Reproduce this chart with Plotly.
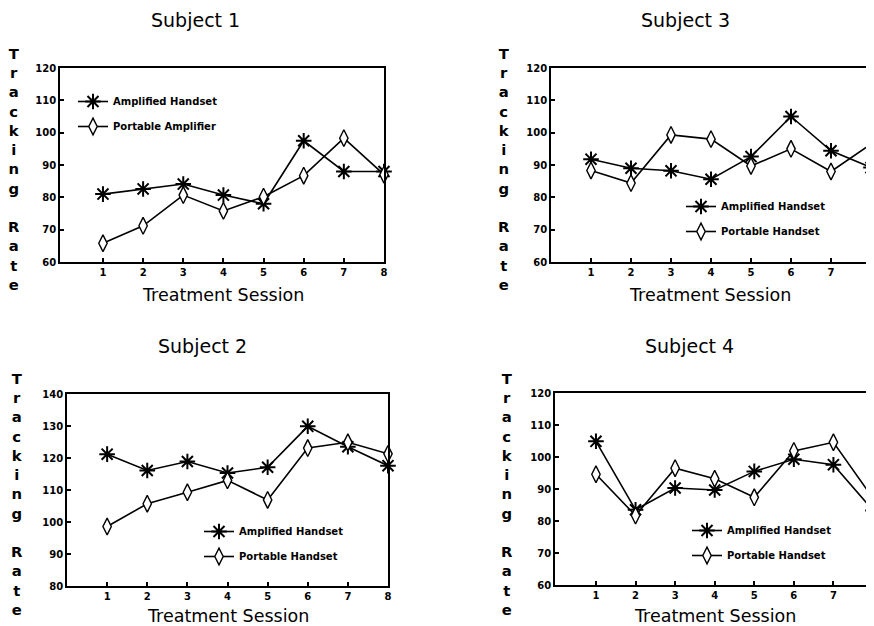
import plotly.graph_objects as go

sessions = [1, 2, 3, 4, 5, 6, 7, 8]

s1_amp = [81, 82.6, 84.1, 80.7, 78, 97.5, 88, 88]
s1_port = [65.8, 71.2, 80.7, 75.8, 80.2, 86.7, 98.3, 87]
s3_amp = [91.8, 89, 88.2, 85.6, 92.6, 105, 94.4, 89.2]
s3_port = [88.3, 84.4, 99.3, 98, 89.7, 95, 88, 96.5]
s2_amp = [121.2, 116.1, 118.9, 115.3, 117.1, 129.9, 123.5, 117.6]
s2_port = [98.6, 105.7, 109.3, 113, 106.9, 123.1, 124.9, 121.3]
s4_amp = [104.9, 83.5, 90.3, 89.7, 95.5, 99.3, 97.6, 83.3]
s4_port = [94.6, 81.7, 96.5, 93.2, 87.4, 101.9, 104.6, 87.1]

titles = ["Subject 1", "Subject 3", "Subject 2", "Subject 4"]
amp_names = ["Amplified Handset"] * 4
port_names = ["Portable Amplifier", "Portable Handset", "Portable Handset", "Portable Handset"]
y_ranges = [[60, 120], [60, 120], [80, 140], [60, 120]]
y_ticks = [[60, 70, 80, 90, 100, 110, 120], [60, 70, 80, 90, 100, 110, 120],
           [80, 90, 100, 110, 120, 130, 140], [60, 70, 80, 90, 100, 110, 120]]

W, H = 874, 626
OFF = 8  # page body margin
FONT = "DejaVu Sans"


def fx(px):
    return (px - OFF) / W


def fy(py):
    return 1 - (py - OFF) / H


# panel geometry in screen pixels: left, right, top, bottom, x-range start
panels = [
    (60, 384, 68, 262, -0.07),
    (551, 871, 68, 262, 0.0),
    (67, 388, 394, 586, 0.0),
    (555, 873, 393, 585, -0.035),
]
legend_pos = [(73, 87), (681, 192), (199, 517), (687, 516)]
title_pos = [(195, 20), (685, 20), (202, 346), (689, 346)]
xtitle_pos = [(223, 295), (710, 295), (228, 616), (715, 616)]
ylab_pos = [(14, 169), (504, 169), (17, 494), (507, 494)]

data = [(s1_amp, s1_port), (s3_amp, s3_port), (s2_amp, s2_port), (s4_amp, s4_port)]

fig = go.Figure()
layout = dict(
    width=W, height=H, margin=dict(l=0, r=0, t=0, b=0, autoexpand=False),
    paper_bgcolor="white", plot_bgcolor="white",
    font=dict(family=FONT, color="black"),
    annotations=[], showlegend=True,
)

for i in range(4):
    ax = "" if i == 0 else str(i + 1)
    lg = "legend" if i == 0 else "legend" + str(i + 1)
    amp, port = data[i]
    fig.add_trace(go.Scatter(
        x=sessions, y=amp, name=amp_names[i], mode="lines+markers",
        xaxis="x" + ax, yaxis="y" + ax, legend=lg, legendgroup="a%d" % i,
        cliponaxis=False,
        line=dict(color="black", width=1.6),
        marker=dict(symbol="asterisk-open", size=13, color="black",
                    line=dict(color="black", width=2)),
    ))
    fig.add_trace(go.Scatter(
        x=sessions, y=port, name=port_names[i], mode="lines+markers",
        xaxis="x" + ax, yaxis="y" + ax, legend=lg, legendgroup="p%d" % i,
        cliponaxis=False,
        line=dict(color="black", width=1.6),
        marker=dict(symbol="diamond-tall", size=12, color="white",
                    line=dict(color="black", width=1.4)),
    ))
    l, r, t, b, x0 = panels[i]
    layout["xaxis" + ax] = dict(
        domain=[fx(l), fx(r)], range=[x0, 8], anchor="y" + ax,
        tickvals=sessions, ticks="inside", ticklen=4, tickwidth=1.5, tickcolor="black",
        showline=True, linecolor="black", linewidth=1.8, mirror=True,
        showgrid=False, zeroline=False, ticklabeloverflow="allow",
        tickfont=dict(family=FONT, size=10, color="black", weight="bold"),
    )
    layout["yaxis" + ax] = dict(
        domain=[fy(b), fy(t)], range=y_ranges[i], anchor="x" + ax,
        tickvals=y_ticks[i], ticks="inside", ticklen=4, tickwidth=1.5, tickcolor="black",
        showline=True, linecolor="black", linewidth=1.8, mirror=True,
        showgrid=False, zeroline=False,
        tickfont=dict(family=FONT, size=10, color="black", weight="bold"),
    )
    lx, ly = legend_pos[i]
    layout[lg] = dict(
        x=fx(lx), y=fy(ly), xanchor="left", yanchor="top",
        bgcolor="rgba(0,0,0,0)", tracegroupgap=6, itemwidth=30,
        font=dict(family=FONT, size=10, color="black", weight="bold"),
    )
    tx, ty = title_pos[i]
    layout["annotations"].append(dict(
        text=titles[i], x=fx(tx), y=fy(ty), xref="paper", yref="paper",
        showarrow=False, xanchor="center", yanchor="middle",
        font=dict(family=FONT, size=19, color="black"),
    ))
    xx, xy = xtitle_pos[i]
    layout["annotations"].append(dict(
        text="Treatment Session", x=fx(xx), y=fy(xy), xref="paper", yref="paper",
        showarrow=False, xanchor="center", yanchor="middle",
        font=dict(family=FONT, size=17.5, color="black"),
    ))
    yx, yy = ylab_pos[i]
    layout["annotations"].append(dict(
        text="<br>".join(list("Tracking")) + "<br> <br>" + "<br>".join(list("Rate")),
        x=fx(yx), y=fy(yy), xref="paper", yref="paper",
        showarrow=False, xanchor="center", yanchor="middle", align="center",
        font=dict(family=FONT, size=14.8, color="black", weight="bold"),
    ))

fig.update_layout(**layout)
fig.write_html("out.html")
